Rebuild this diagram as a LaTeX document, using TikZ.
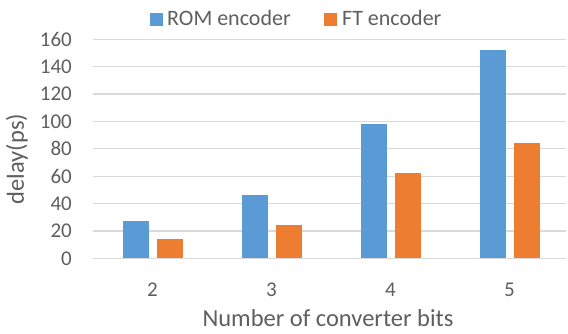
\documentclass[tikz,border=0pt]{standalone}
\usepackage{fontspec}
\setmainfont{Carlito}
\definecolor{romblue}{HTML}{5B9BD5}
\definecolor{ftorange}{HTML}{ED7D31}
\definecolor{gridgray}{HTML}{D9D9D9}
\definecolor{labelgray}{HTML}{5F5F5F}
\begin{document}
\begin{tikzpicture}[x=1pt,y=1pt,
  gridline/.style={draw=gridgray,line width=1.2pt},
  ticklabel/.style={text=labelgray,font=\fontsize{21}{25}\selectfont,inner sep=0pt},
  legendtext/.style={text=labelgray,font=\fontsize{22}{26}\selectfont,inner sep=0pt,anchor=base west},
  axistitle/.style={text=labelgray,font=\fontsize{24.5}{29}\selectfont,inner sep=0pt},
  rombar/.style={fill=romblue},
  ftbar/.style={fill=ftorange}]
\useasboundingbox (0,0) rectangle (568,334);
\fill[white] (0,0) rectangle (568,334);
% value axis: zero at y=75.7, 1.369pt per ps
\foreach \v in {0,20,...,160}{
  \draw[gridline] (93,{75.7+\v*1.369}) -- (566,{75.7+\v*1.369});
  \node[ticklabel,anchor=east] (ytick\v) at (72,{75.7+\v*1.369}) {\v};
}
% bars per converter width
\foreach \c/\r/\f/\n in {152.5/27/14/2, 271.5/46/24/3, 390.5/98/62.5/4, 509.5/152.5/84/5}{
  \fill[rombar] (\c-30,75.7) rectangle (\c-4,{75.7+\r*1.369});
  \fill[ftbar] (\c+4,75.7) rectangle (\c+30,{75.7+\f*1.369});
  \node[ticklabel] (xtick\n) at (\c,44.3) {\n};
}
% axis titles
\node[axistitle,anchor=base] (xtitle) at (328,7.3) {Number of converter bits};
\node[axistitle,rotate=90] (ytitle) at (17,175) {delay(ps)};
% legend
\fill[romblue] (150,308) rectangle (163,321);
\node[legendtext] (legrom) at (167,308) {ROM encoder};
\fill[ftorange] (324,308) rectangle (337,321);
\node[legendtext] (legft) at (342,308) {FT encoder};
\end{tikzpicture}
\end{document}
